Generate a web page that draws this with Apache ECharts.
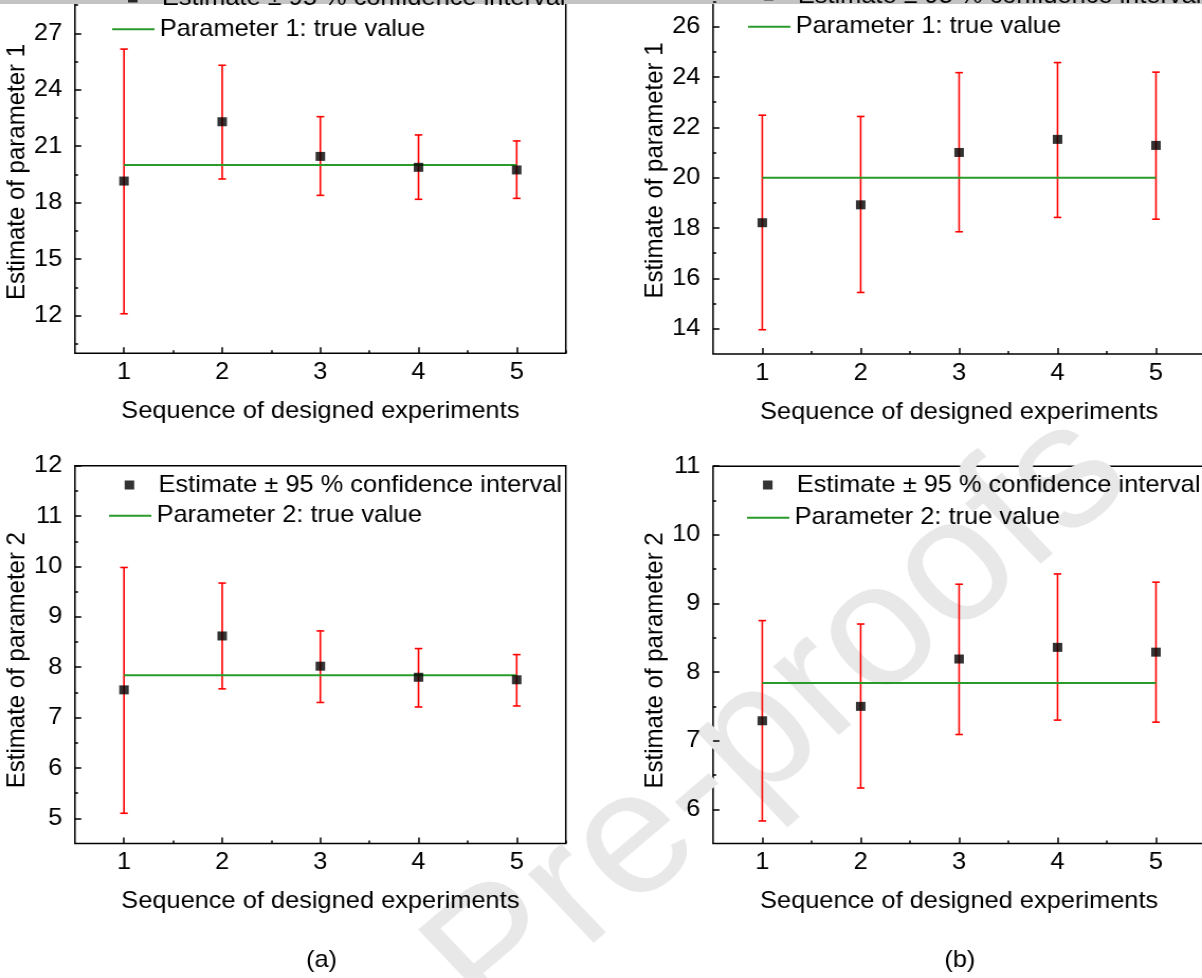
<!DOCTYPE html>
<html>
<head>
<meta charset="utf-8">
<title>Estimates of parameters</title>
<script src="https://cdn.jsdelivr.net/npm/echarts@6/dist/echarts.min.js"></script>
<style>
html, body { margin: 0; padding: 0; background: #fff; overflow: hidden; }
/* the scanned figure is a little stretched sideways, so the chart is too */
#chart { width: 1136px; height: 978px; transform: scaleX(1.0581); transform-origin: 0 0; }
</style>
</head>
<body>
<div id="chart"></div>
<script>
let experiments = [1, 2, 3, 4, 5]
let xTicks = [1, 2, 3, 4, 5]
let xMinorTicks = [1.5, 2.5, 3.5, 4.5, 5.5]

// (a) parameter 1
let aP1Estimate = [19.15, 22.3, 20.46, 19.88, 19.74]
let aP1Lower = [12.1, 19.26, 18.39, 18.18, 18.23]
let aP1Upper = [26.16, 25.3, 22.57, 21.6, 21.28]
// (a) parameter 2
let aP2Estimate = [7.55, 8.62, 8.02, 7.8, 7.75]
let aP2Lower = [5.1, 7.57, 7.3, 7.21, 7.23]
let aP2Upper = [9.98, 9.67, 8.72, 8.37, 8.25]
// (b) parameter 1
let bP1Estimate = [18.21, 18.92, 21.0, 21.52, 21.28]
let bP1Lower = [13.96, 15.44, 17.85, 18.42, 18.35]
let bP1Upper = [22.48, 22.43, 24.17, 24.57, 24.19]
// (b) parameter 2
let bP2Estimate = [7.29, 7.5, 8.19, 8.36, 8.29]
let bP2Lower = [5.83, 6.31, 7.09, 7.3, 7.27]
let bP2Upper = [8.75, 8.7, 9.28, 9.43, 9.31]

let trueValue1 = 20
let trueValue2 = 7.84

let yTicksA1 = [12, 15, 18, 21, 24, 27, 30]
let yMinorA1 = [10.5, 13.5, 16.5, 19.5, 22.5, 25.5, 28.5]
let yTicksA2 = [5, 6, 7, 8, 9, 10, 11, 12]
let yMinorA2 = [5.5, 6.5, 7.5, 8.5, 9.5, 10.5, 11.5]
let yTicksB1 = [14, 16, 18, 20, 22, 24, 26, 28]
let yMinorB1 = [15, 17, 19, 21, 23, 25, 27]
let yTicksB2 = [6, 7, 8, 9, 10, 11]
let yMinorB2 = [6.5, 7.5, 8.5, 9.5, 10.5]

let estimateName = 'Estimate \u00b1 95 % confidence interval'
let font = 'Liberation Sans, Arial, Helvetica, sans-serif'

let panels = [
  {
    grid: {left: 70.8, top: -23.2, width: 463.9, height: 376.5},
    yMin: 10, yMax: 30, yTicks: yTicksA1, yMinor: yMinorA1,
    estimate: aP1Estimate, lower: aP1Lower, upper: aP1Upper, truth: trueValue1, param: 1,
    nameShift: 14, markLegend: {left: 121, top: -14}, lineLegend: {left: 106, top: 17.3}
  },
  {
    grid: {left: 70.8, top: 465.7, width: 463.9, height: 377.8},
    yMin: 4.5, yMax: 12, yTicks: yTicksA2, yMinor: yMinorA2,
    estimate: aP2Estimate, lower: aP2Lower, upper: aP2Upper, truth: trueValue2, param: 2,
    nameShift: 11, markLegend: {left: 117.8, top: 473}, lineLegend: {left: 103, top: 503.7}
  },
  {
    grid: {left: 673.9, top: -23.8, width: 465.1, height: 377.7},
    yMin: 13, yMax: 28, yTicks: yTicksB1, yMinor: yMinorB1,
    estimate: bP1Estimate, lower: bP1Lower, upper: bP1Upper, truth: trueValue1, param: 1,
    nameShift: 11, markLegend: {left: 722, top: -16}, lineLegend: {left: 707, top: 14.7}
  },
  {
    grid: {left: 673.9, top: 466.2, width: 465.1, height: 377.4},
    yMin: 5.5, yMax: 11, yTicks: yTicksB2, yMinor: yMinorB2,
    estimate: bP2Estimate, lower: bP2Lower, upper: bP2Upper, truth: trueValue2, param: 2,
    nameShift: 11, markLegend: {left: 721.1, top: 473}, lineLegend: {left: 706, top: 505.7}
  }
]

function textStyle (extra) {
  return Object.assign({fontSize: 24, color: '#000', fontFamily: font}, extra)
}

function renderErrorBar (params, api) {
  let x = api.value(0)
  let hi = api.coord([x, api.value(2)])
  let lo = api.coord([x, api.value(1)])
  let cap = 3.6
  let style = {stroke: '#ff0000', lineWidth: 1.6}
  return {
    type: 'group',
    children: [
      {type: 'line', shape: {x1: hi[0], y1: hi[1], x2: lo[0], y2: lo[1]}, style},
      {type: 'line', shape: {x1: hi[0] - cap, y1: hi[1], x2: hi[0] + cap, y2: hi[1]}, style},
      {type: 'line', shape: {x1: lo[0] - cap, y1: lo[1], x2: lo[0] + cap, y2: lo[1]}, style}
    ]
  }
}

function tickAxis (gridIndex, min, max, values, length, withLabels, extra) {
  return Object.assign({
    type: 'value',
    gridIndex,
    min,
    max,
    axisLine: {show: false},
    splitLine: {show: false},
    axisTick: {
      show: true,
      inside: true,
      length,
      customValues: values,
      lineStyle: {color: '#000', width: 1.5}
    },
    axisLabel: withLabels
      ? textStyle({show: true, customValues: values})
      : {show: false}
  }, extra)
}

let option = {
  animation: false,
  backgroundColor: '#fff',
  title: [
    {text: '(a)', left: 303.8, top: 948, textAlign: 'center', padding: 0, textStyle: textStyle({fontWeight: 'normal'})},
    {text: '(b)', left: 907.1, top: 948, textAlign: 'center', padding: 0, textStyle: textStyle({fontWeight: 'normal'})}
  ],
  graphic: [
    {
      type: 'text',
      x: 737,
      y: 720,
      rotation: 0.731,
      z: 0,
      silent: true,
      style: {text: 'Pre-proofs', fontSize: 175, fontFamily: font, fill: '#e8e8e8', align: 'center', verticalAlign: 'middle'}
    },
    {type: 'rect', left: 0, top: 0, z: 0, shape: {width: 1136, height: 4}, style: {fill: '#c4c4c4'}}
  ],
  grid: [],
  xAxis: [],
  yAxis: [],
  legend: [],
  series: []
}

panels.forEach((p, i) => {
  option.grid.push(Object.assign({
    show: true,
    outerBoundsMode: 'none',
    containLabel: false,
    borderColor: '#000',
    borderWidth: 1.5,
    backgroundColor: 'transparent'
  }, p.grid))

  option.xAxis.push(tickAxis(i, 0.5, 5.5, xTicks, 6, true, {
    position: 'bottom',
    name: 'Sequence of designed experiments',
    nameLocation: 'middle',
    nameGap: 46,
    nameTextStyle: textStyle()
  }))
  option.xAxis[option.xAxis.length - 1].axisLabel.margin = 7
  option.xAxis.push(tickAxis(i, 0.5, 5.5, xMinorTicks, 3, false, {position: 'bottom'}))

  option.yAxis.push(tickAxis(i, p.yMin, p.yMax, p.yTicks, 6, true, {
    position: 'left',
    name: 'Estimate of parameter ' + p.param,
    nameLocation: 'middle',
    nameGap: 40,
    nameTextStyle: textStyle({padding: [0, p.nameShift, 0, 0]})
  }))
  option.yAxis[option.yAxis.length - 1].axisLabel.margin = 12
  option.yAxis.push(tickAxis(i, p.yMin, p.yMax, p.yMinor, 3, false, {position: 'left'}))

  let lineName = 'Parameter ' + p.param + ': true value'

  option.legend.push({
    left: p.markLegend.left,
    top: p.markLegend.top,
    padding: 0,
    selectedMode: false,
    data: [estimateName],
    icon: 'rect',
    itemWidth: 9,
    itemHeight: 9,
    textStyle: textStyle({padding: [0, 0, 0, 18]})
  })
  // a plain 2px bar as the icon, so no symbol sits on the line
  option.legend.push({
    left: p.lineLegend.left,
    top: p.lineLegend.top,
    padding: 0,
    selectedMode: false,
    data: [lineName],
    icon: 'rect',
    itemWidth: 40,
    itemHeight: 2,
    textStyle: textStyle()
  })

  option.series.push({
    type: 'custom',
    name: 'error bars ' + i,
    xAxisIndex: i * 2,
    yAxisIndex: i * 2,
    z: 2,
    renderItem: renderErrorBar,
    encode: {x: 0, y: [1, 2]},
    data: experiments.map((x, k) => [x, p.lower[k], p.upper[k]])
  })
  option.series.push({
    type: 'line',
    name: lineName,
    xAxisIndex: i * 2,
    yAxisIndex: i * 2,
    z: 3,
    symbol: 'none',
    color: '#2a9a2a',
    lineStyle: {color: '#2a9a2a', width: 2},
    data: experiments.map(x => [x, p.truth])
  })
  option.series.push({
    type: 'scatter',
    name: estimateName,
    xAxisIndex: i * 2,
    yAxisIndex: i * 2,
    z: 4,
    symbol: 'rect',
    symbolSize: 9,
    itemStyle: {color: '#000'},
    data: experiments.map((x, k) => [x, p.estimate[k]])
  })
})

let myChart = echarts.init(document.getElementById('chart'))
myChart.setOption(option)
</script>
</body>
</html>
